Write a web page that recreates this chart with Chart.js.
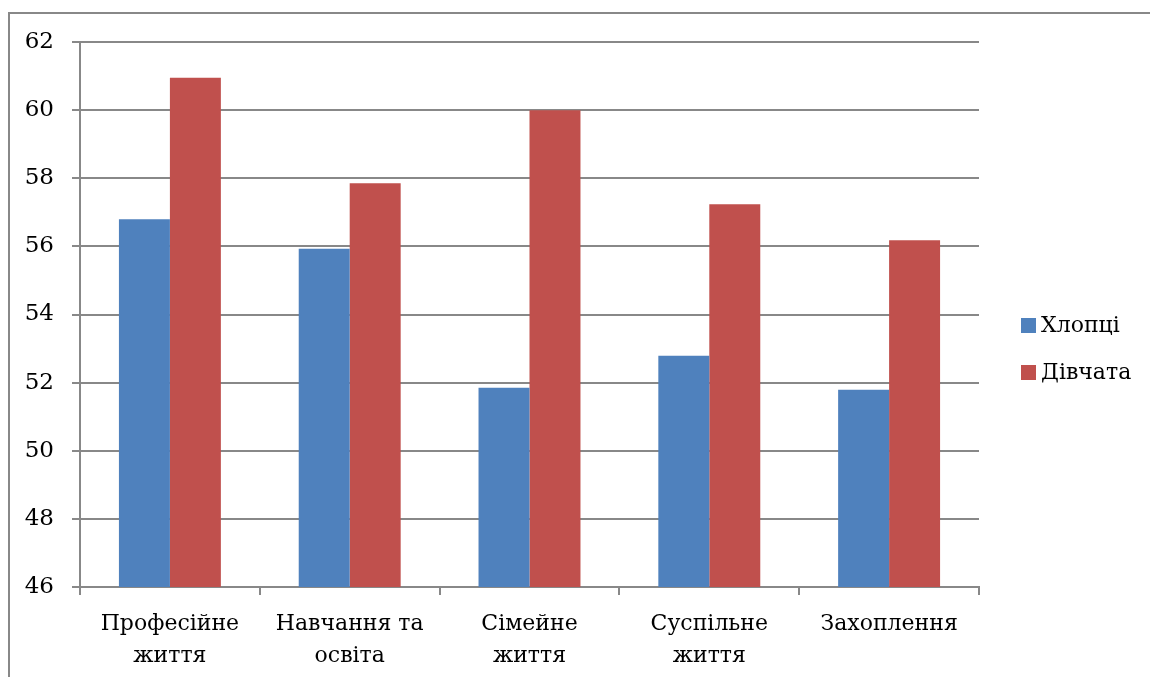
<!DOCTYPE html>
<html>
<head>
<meta charset="utf-8">
<script src="https://cdn.jsdelivr.net/npm/chart.js@4.4.1/dist/chart.umd.min.js"></script>
<style>
  html, body { margin: 0; padding: 0; width: 1150px; height: 677px; background: #fff; overflow: hidden; }
  #frame { position: absolute; left: 8px; top: 12px; width: 1300px; height: 800px; border-top: 2px solid #888; border-left: 2px solid #888; }
  #wrap { position: absolute; left: 0; top: 0; width: 1150px; height: 677px; }
</style>
</head>
<body>
<div id="frame"></div>
<div id="wrap"><canvas id="chart" width="1150" height="677"></canvas></div>
<script>
const categories = [['Професійне', 'життя'], ['Навчання та', 'освіта'], ['Сімейне', 'життя'], ['Суспільне', 'життя'], 'Захоплення'];
const boys = [56.8, 55.93, 51.85, 52.79, 51.79];
const girls = [60.95, 57.85, 60.0, 57.24, 56.18];
const yTicks = [46, 48, 50, 52, 54, 56, 58, 60, 62];

const fontFamily = '"DejaVu Serif", serif';
const gridColor = '#888888';

// legend drawn by hand so it sits where the original one does
const sideLegend = {
    id: 'sideLegend',
    afterDraw(chart) {
        const ctx = chart.ctx;
        ctx.save();
        ctx.font = '22px ' + fontFamily;
        ctx.textBaseline = 'middle';
        chart.data.datasets.forEach((ds, i) => {
            const y = 325 + i * 47;
            ctx.fillStyle = ds.backgroundColor;
            ctx.fillRect(1021, y - 7, 15, 15);
            ctx.fillStyle = '#000';
            ctx.fillText(ds.label, 1041, y + 1);
        });
        ctx.restore();
    }
};

new Chart(document.getElementById('chart').getContext('2d'), {
    type: 'bar',
    data: {
        labels: categories,
        datasets: [{
            label: 'Хлопці',
            data: boys,
            backgroundColor: '#4F81BD',
            categoryPercentage: 0.567,
            barPercentage: 1
        },
        {
            label: 'Дівчата',
            data: girls,
            backgroundColor: '#C0504D',
            categoryPercentage: 0.567,
            barPercentage: 1
        }]
    },
    options: {
        responsive: false,
        animation: false,
        layout: { padding: { top: 42, right: 171, left: 0, bottom: 0 } },
        plugins: {
            legend: { display: false },
            tooltip: { enabled: false }
        },
        scales: {
            x: {
                grid: { display: true, drawOnChartArea: false, drawTicks: true, tickLength: 8, color: gridColor, lineWidth: 2, offset: true },
                border: { color: gridColor, width: 2 },
                ticks: { color: '#000', font: { family: fontFamily, size: 22, lineHeight: 1.47 }, padding: 13, maxRotation: 0, autoSkip: false },
                afterFit(scale) { scale.height = 90; }
            },
            y: {
                min: yTicks[0],
                max: yTicks[yTicks.length - 1],
                afterBuildTicks(scale) { scale.ticks = yTicks.map(v => ({ value: v })); },
                grid: { color: gridColor, lineWidth: 2, tickLength: 8 },
                border: { color: gridColor, width: 2 },
                ticks: { color: '#000', font: { family: fontFamily, size: 23 }, padding: 18 },
                afterFit(scale) { scale.width = 80; }
            }
        }
    },
    plugins: [sideLegend]
});
</script>
</body>
</html>
